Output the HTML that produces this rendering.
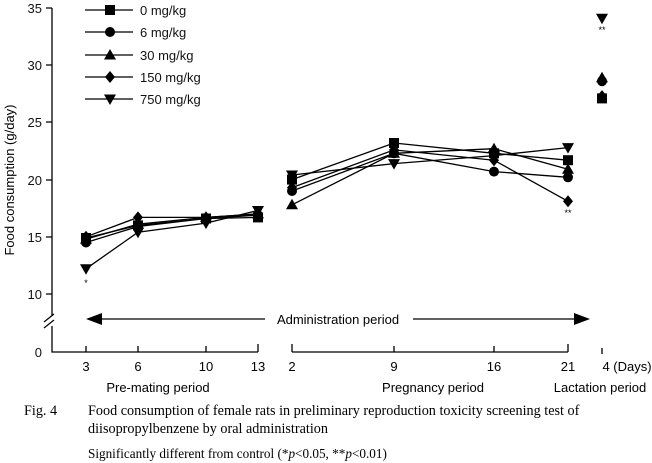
<!DOCTYPE html><html><head><style>body{margin:0;background:#fff}svg{display:block}</style></head><body>
<svg width="652" height="463" viewBox="0 0 652 463" xmlns="http://www.w3.org/2000/svg" font-family="Liberation Sans, sans-serif">
<defs>
<rect id="sq" x="-5" y="-5" width="10" height="10"/>
<circle id="ci" r="5"/>
<polygon id="tu" points="0,-6 6,4.5 -6,4.5"/>
<polygon id="di" points="0,-6 5,0 0,6 -5,0"/>
<polygon id="td" points="-6,-4.5 6,-4.5 0,6"/>
</defs>
<g stroke="#000" stroke-width="1.3" fill="none">
<path d="M52 8V352H258M292 352H568M602 348V354"/>
<path d="M46 8H52M46 65H52M46 122H52M46 180H52M46 237H52M46 294H52"/>
<path d="M86 352v-6M138 352v-6M206 352v-6M258 352v-8M292 352v-8M394 352v-6M494 352v-6M568 352v-8"/>
<path d="M100 319H265M413 319H575"/>
</g>
<rect x="42" y="316" width="14" height="10" fill="#fff"/>
<path d="M44 328l10 -8M44 322l10 -8" stroke="#000" stroke-width="1.2"/>
<polygon points="86,319 102,313 102,325"/><polygon points="590,319 574,313 574,325"/>
<g font-size="13" fill="#111" text-anchor="end">
<text x="42" y="13">35</text><text x="42" y="70">30</text><text x="42" y="127">25</text><text x="42" y="185">20</text><text x="42" y="242">15</text><text x="42" y="299">10</text><text x="42" y="357">0</text>
</g>
<text x="14" y="180" font-size="13" text-anchor="middle" transform="rotate(-90 14 180)">Food consumption (g/day)</text>
<text x="338" y="324" font-size="13" text-anchor="middle">Administration period</text>
<g font-size="13" text-anchor="middle">
<text x="86" y="371">3</text><text x="138" y="371">6</text><text x="206" y="371">10</text><text x="258" y="371">13</text><text x="292" y="371">2</text><text x="394" y="371">9</text><text x="494" y="371">16</text><text x="568" y="371">21</text><text x="627" y="371">4 (Days)</text>
<text x="158" y="392">Pre-mating period</text><text x="433" y="392">Pregnancy period</text><text x="600" y="392">Lactation period</text>
</g>
<g font-family="Liberation Serif, serif" font-size="14.2">
<text x="24" y="415">Fig. 4</text>
<text x="88" y="415">Food consumption of female rats in preliminary reproduction toxicity screening test of</text>
<text x="88" y="433">diisopropylbenzene by oral administration</text>
<text x="88" y="458" font-size="13.2">Significantly different from control (*<tspan font-style="italic">p</tspan>&lt;0.05, **<tspan font-style="italic">p</tspan>&lt;0.01)</text>
</g>
<g font-size="9" text-anchor="middle"><text x="86" y="286">*</text><text x="568" y="216">**</text><text x="602" y="33">**</text></g>
<g stroke="#000" stroke-width="1.3" fill="none">
<polyline points="86,238 138,225.4 206,218.5 258,217.4"/><polyline points="86,242.5 138,226.5 206,218.5 258,215.1"/><polyline points="86,239.1 138,224.2 206,217.4 258,213.9"/><polyline points="86,236.8 138,217.4 206,217.4 258,213.9"/><polyline points="86,268.8 138,232.2 206,223.1 258,210.5"/>
<polyline points="292,179.6 394,143 494,153.3 568,160.2"/><polyline points="292,191 394,153.3 494,171.6 568,177.3"/><polyline points="292,204.8 394,153.3 494,148.7 568,169.3"/><polyline points="292,187.6 394,149.9 494,160.2 568,201.3"/><polyline points="292,175 394,163.6 494,155.6 568,147.6"/>
<path d="M85 10H133M85 32H133M85 55H133M85 77H133M85 99H133"/>
</g>
<g fill="#000">
<use href="#sq" x="110" y="10"/><use href="#ci" x="110" y="32"/><use href="#tu" x="110" y="55"/><use href="#di" x="110" y="77"/><use href="#td" x="110" y="99"/>
<use href="#sq" x="86" y="238"/><use href="#sq" x="138" y="225.4"/><use href="#sq" x="206" y="218.5"/><use href="#sq" x="258" y="217.4"/><use href="#sq" x="292" y="179.6"/><use href="#sq" x="394" y="143"/><use href="#sq" x="494" y="153.3"/><use href="#sq" x="568" y="160.2"/><use href="#sq" x="602" y="98.4"/>
<use href="#ci" x="86" y="242.5"/><use href="#ci" x="138" y="226.5"/><use href="#ci" x="206" y="218.5"/><use href="#ci" x="258" y="215.1"/><use href="#ci" x="292" y="191"/><use href="#ci" x="394" y="153.3"/><use href="#ci" x="494" y="171.6"/><use href="#ci" x="568" y="177.3"/><use href="#ci" x="602" y="81.2"/>
<use href="#tu" x="86" y="239.1"/><use href="#tu" x="138" y="224.2"/><use href="#tu" x="206" y="217.4"/><use href="#tu" x="258" y="213.9"/><use href="#tu" x="292" y="204.8"/><use href="#tu" x="394" y="153.3"/><use href="#tu" x="494" y="148.7"/><use href="#tu" x="568" y="169.3"/><use href="#tu" x="602" y="77.8"/>
<use href="#di" x="86" y="236.8"/><use href="#di" x="138" y="217.4"/><use href="#di" x="206" y="217.4"/><use href="#di" x="258" y="213.9"/><use href="#di" x="292" y="187.6"/><use href="#di" x="394" y="149.9"/><use href="#di" x="494" y="160.2"/><use href="#di" x="568" y="201.3"/><use href="#di" x="602" y="96.1"/>
<use href="#td" x="86" y="268.8"/><use href="#td" x="138" y="232.2"/><use href="#td" x="206" y="223.1"/><use href="#td" x="258" y="210.5"/><use href="#td" x="292" y="175"/><use href="#td" x="394" y="163.6"/><use href="#td" x="494" y="155.6"/><use href="#td" x="568" y="147.6"/><use href="#td" x="602" y="18.3"/>
</g>
<g font-size="13" fill="#111"><text x="140" y="15">0 mg/kg</text><text x="140" y="37">6 mg/kg</text><text x="140" y="60">30 mg/kg</text><text x="140" y="82">150 mg/kg</text><text x="140" y="104">750 mg/kg</text></g>
</svg></body></html>
